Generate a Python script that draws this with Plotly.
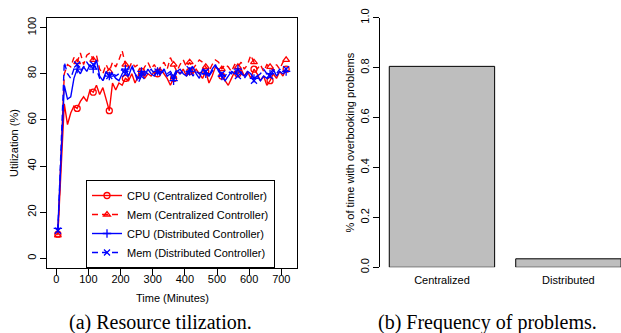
import plotly.graph_objects as go

# ---------------- data ----------------
time_min = [5, 25, 35, 45, 55, 65, 75, 85, 95, 105,
            115, 125, 135, 145, 155, 165, 175, 185, 195, 205,
            215, 225, 235, 245, 255, 265, 275, 285, 295, 305,
            315, 325, 335, 345, 355, 365, 375, 385, 395, 405,
            415, 425, 435, 445, 455, 465, 475, 485, 495, 505,
            515, 525, 535, 545, 555, 565, 575, 585, 595, 605,
            615, 625, 635, 645, 655, 665, 675, 685, 695, 705,
            715]

cpu_central = [10.5, 67, 58, 63, 66, 65, 68, 70, 68, 73,
               72, 75, 71, 74, 69, 64, 76, 73, 76, 75,
               78, 77, 80, 76, 79, 81, 78, 80, 79, 81,
               80, 82, 80, 78, 75, 78, 81, 80, 82, 79,
               81, 80, 82, 80, 78, 81, 76, 79, 83, 82,
               79, 77, 75, 78, 81, 80, 82, 79, 81, 78,
               82, 80, 77, 79, 75, 77, 80, 78, 81, 79,
               82]

mem_central = [10, 80, 84, 83, 87, 85, 89, 84, 88, 89,
               86, 88, 82, 80, 84, 81, 85, 83, 86, 90,
               84, 82, 85, 83, 84, 80, 83, 85, 82, 84,
               81, 83, 85, 82, 87, 84, 81, 84, 86, 83,
               85, 82, 84, 86, 85, 83, 81, 84, 86, 85,
               82, 84, 83, 81, 84, 83, 85, 82, 84, 88,
               85, 82, 84, 81, 84, 83, 81, 84, 82, 85,
               86]

cpu_distrib = [13, 75, 69, 70, 78, 82, 80, 83, 81, 84,
               82, 86, 79, 77, 81, 79, 80, 78, 77, 80,
               82, 79, 83, 80, 78, 81, 79, 82, 80, 79,
               81, 80, 82, 79, 80, 77, 81, 82, 80, 79,
               81, 83, 80, 78, 82, 80, 79, 82, 84, 81,
               79, 77, 79, 81, 80, 82, 80, 79, 81, 80,
               78, 79, 77, 79, 78, 80, 82, 79, 81, 80,
               81]

mem_distrib = [12, 85, 80, 78, 82, 84, 81, 83, 85, 83,
               84, 82, 78, 77, 80, 79, 81, 79, 80, 82,
               80, 83, 84, 80, 76, 79, 81, 80, 82, 80,
               81, 79, 82, 80, 81, 79, 82, 80, 81, 80,
               82, 79, 81, 80, 82, 81, 79, 81, 83, 82,
               80, 79, 81, 80, 82, 79, 81, 78, 80, 79,
               77, 79, 80, 82, 80, 79, 81, 80, 82, 81,
               82]

series_names = ["CPU (Centralized Controller)", "Mem (Centralized Controller)",
                "CPU (Distributed Controller)", "Mem (Distributed Controller)"]

bar_categories = ["Centralized", "Distributed"]
bar_values = [0.805, 0.034]

x_ticks = [0, 100, 200, 300, 400, 500, 600, 700]
y_ticks = [0, 20, 40, 60, 80, 100]
bar_y_ticks = [0.0, 0.2, 0.4, 0.6, 0.8, 1.0]

# ---------------- styling ----------------
W, H = 621, 333
SANS = "Liberation Sans, Arial, sans-serif"
SERIF = "Liberation Serif, Times New Roman, serif"
RED = "#FF0000"
BLUE = "#0000FF"
styles = [
    dict(color=RED, dash="solid", symbol="circle-open"),
    dict(color=RED, dash="6px,4px", symbol="triangle-up-open"),
    dict(color=BLUE, dash="solid", symbol="cross-thin-open"),
    dict(color=BLUE, dash="6px,4px", symbol="x-thin-open"),
]
LW = 1.4
MS = 6
MARK_EVERY = 5

fig = go.Figure()
all_series = [cpu_central, mem_central, cpu_distrib, mem_distrib]
for name, ys, st in zip(series_names, all_series, styles):
    fig.add_trace(go.Scatter(
        x=time_min, y=ys, mode="lines", name=name, legendgroup=name,
        showlegend=False, line=dict(color=st["color"], width=LW, dash=st["dash"]),
        xaxis="x", yaxis="y"))
    fig.add_trace(go.Scatter(
        x=time_min[::MARK_EVERY], y=ys[::MARK_EVERY], mode="markers", name=name,
        legendgroup=name, showlegend=False,
        marker=dict(symbol=st["symbol"], size=MS, color=st["color"],
                    line=dict(color=st["color"], width=1.3)),
        xaxis="x", yaxis="y"))
    fig.add_trace(go.Scatter(
        x=[None], y=[None], mode="lines+markers", name=name, legendgroup=name,
        showlegend=True, line=dict(color=st["color"], width=LW, dash=st["dash"]),
        marker=dict(symbol=st["symbol"], size=MS, color=st["color"],
                    line=dict(color=st["color"], width=1.3)),
        xaxis="x", yaxis="y"))

fig.add_trace(go.Bar(
    x=bar_categories, y=bar_values, marker=dict(color="#BEBEBE",
    line=dict(color="black", width=1)), width=0.8333, showlegend=False,
    xaxis="x2", yaxis="y2"))


def px_x(p):
    return p / W


def px_y(p):
    return 1 - p / H


axis_common = dict(showgrid=False, zeroline=False, ticks="outside", ticklen=6,
                   tickcolor="black", tickwidth=1, automargin=False,
                   tickfont=dict(family=SANS, size=11, color="black"))


def label(text, cx, cy, font, angle=0):
    return dict(text=text, x=px_x(cx), y=px_y(cy), xref="paper", yref="paper",
                xanchor="center", yanchor="middle", showarrow=False,
                textangle=angle, font=font)


sans_font = dict(family=SANS, size=11, color="black")
serif_font = dict(family=SERIF, size=20, color="black")

fig.update_layout(
    width=W, height=H,
    margin=dict(l=0, r=0, t=0, b=0),
    paper_bgcolor="white", plot_bgcolor="white",
    font=dict(family=SANS, size=11, color="black"),
    xaxis=dict(domain=[px_x(47), px_x(297)], range=[-28.8, 748.8],
               tickvals=x_ticks, showline=True, linecolor="black", linewidth=1,
               mirror=True, anchor="y", ticklabelstandoff=-5, **axis_common),
    yaxis=dict(domain=[px_y(268), px_y(18)], range=[-4.16, 104.16],
               tickvals=y_ticks, tickangle=-90, showline=True, linecolor="black",
               linewidth=1, mirror=True, anchor="x", **axis_common),
    xaxis2=dict(domain=[px_x(380), 1.0], range=[-0.49, 1.416], type="category",
                showline=False, anchor="y2", showgrid=False, zeroline=False,
                ticks="", automargin=False, ticklabelstandoff=5,
                tickfont=dict(family=SANS, size=11, color="black")),
    yaxis2=dict(domain=[px_y(267.3), px_y(17.7)], range=[0, 1],
                tickvals=bar_y_ticks, tickformat=".1f", tickangle=-90,
                showline=True, linecolor="black", linewidth=1, anchor="x2",
                **axis_common),
    legend=dict(x=px_x(86), y=px_y(268), xanchor="left", yanchor="bottom",
                bgcolor="white", bordercolor="black", borderwidth=1,
                font=dict(family=SANS, size=11, color="black"),
                tracegroupgap=0, itemwidth=30),
    annotations=[
        label("Time (Minutes)", 172, 297.5, sans_font),
        label("Utilization (%)", 14, 143, sans_font, -90),
        label("% of time with overbooking problems", 349, 142.5, sans_font, -90),
        label("(a) Resource tilization.", 160, 322, serif_font),
        label("(b) Frequency of problems.", 487, 322, serif_font),
    ],
)

fig.write_html("out.html", config={"displayModeBar": False})
